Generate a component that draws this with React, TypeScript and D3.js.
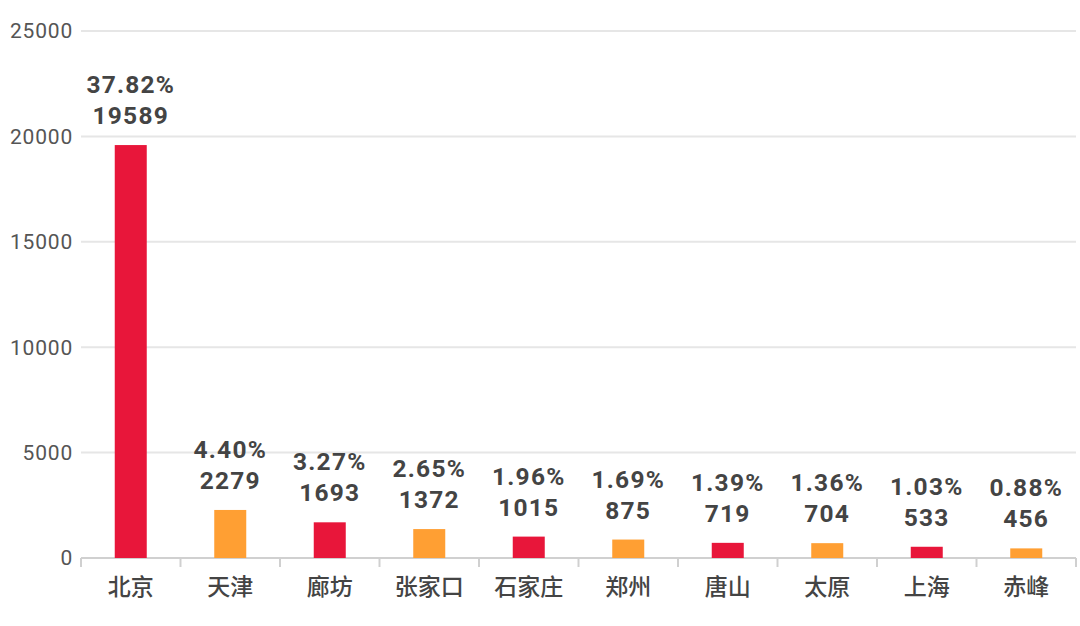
import React, { useEffect, useRef } from 'react';
import * as d3 from 'd3';

const cities = ['北京', '天津', '廊坊', '张家口', '石家庄', '郑州', '唐山', '太原', '上海', '赤峰'];
const counts = [19589, 2279, 1693, 1372, 1015, 875, 719, 704, 533, 456];
const shares = ['37.82%', '4.40%', '3.27%', '2.65%', '1.96%', '1.69%', '1.39%', '1.36%', '1.03%', '0.88%'];
const yTicks = [0, 5000, 10000, 15000, 20000, 25000];

const RED = '#E8163A';
const ORANGE = '#FF9F33';
const FONT = 'Roboto, "Noto Sans CJK SC", sans-serif';
const CJK = '"Noto Sans CJK SC", sans-serif';

export default function App() {
  const ref = useRef<SVGSVGElement | null>(null);

  useEffect(() => {
    const width = 1080;
    const height = 626;
    const margin = { top: 31, right: 4, bottom: 68, left: 81 };
    const innerW = width - margin.left - margin.right;
    const innerH = height - margin.top - margin.bottom;

    const svg = d3.select(ref.current);
    svg.selectAll('*').remove();

    const g = svg.append('g').attr('transform', `translate(${margin.left},${margin.top})`);

    const x = d3.scaleBand().domain(cities).range([0, innerW]).paddingInner(0).paddingOuter(0);
    const y = d3.scaleLinear().domain([0, 25000]).range([innerH, 0]);

    // grid lines
    g.selectAll('.grid')
      .data(yTicks.filter((t) => t > 0))
      .enter()
      .append('line')
      .attr('x1', 0)
      .attr('x2', innerW)
      .attr('y1', (d) => y(d))
      .attr('y2', (d) => y(d))
      .attr('stroke', '#e6e6e6')
      .attr('stroke-width', 2);

    // y tick labels
    g.selectAll('.ylab')
      .data(yTicks)
      .enter()
      .append('text')
      .attr('x', -8)
      .attr('y', (d) => y(d))
      .attr('dy', '0.35em')
      .attr('text-anchor', 'end')
      .attr('font-family', FONT)
      .attr('font-size', 21)
      .attr('letter-spacing', 0.8)
      .attr('fill', '#555')
      .text((d) => d);

    // x axis
    g.append('line')
      .attr('x1', 0)
      .attr('x2', innerW)
      .attr('y1', innerH)
      .attr('y2', innerH)
      .attr('stroke', '#d0d0d0')
      .attr('stroke-width', 2);

    const bounds = cities.map((c) => x(c) as number).concat([innerW]);
    g.selectAll('.xtick')
      .data(bounds)
      .enter()
      .append('line')
      .attr('x1', (d) => d)
      .attr('x2', (d) => d)
      .attr('y1', innerH)
      .attr('y2', innerH + 9)
      .attr('stroke', '#d0d0d0')
      .attr('stroke-width', 2);

    g.selectAll('.xlab')
      .data(cities)
      .enter()
      .append('text')
      .attr('x', (d) => (x(d) as number) + x.bandwidth() / 2)
      .attr('y', innerH + 37)
      .attr('text-anchor', 'middle')
      .attr('font-family', CJK)
      .attr('font-size', 23)
      .attr('font-weight', 500)
      .attr('fill', '#444')
      .text((d) => d);

    // bars
    const barW = 32;
    g.selectAll('.bar')
      .data(counts)
      .enter()
      .append('rect')
      .attr('x', (_, i) => (x(cities[i]) as number) + x.bandwidth() / 2 - barW / 2)
      .attr('y', (d) => y(d))
      .attr('width', barW)
      .attr('height', (d) => innerH - y(d))
      .attr('fill', (_, i) => (i % 2 === 0 ? RED : ORANGE));

    // labels
    const labels = g
      .selectAll('.lab')
      .data(counts)
      .enter()
      .append('g')
      .attr('transform', (d, i) => `translate(${(x(cities[i]) as number) + x.bandwidth() / 2},${y(d)})`);

    labels
      .append('text')
      .attr('y', -52)
      .attr('text-anchor', 'middle')
      .attr('font-family', FONT)
      .attr('font-size', 24.5)
      .attr('font-weight', 'bold')
      .attr('letter-spacing', 1.2)
      .attr('fill', '#444')
      .text((_, i) => shares[i]);

    labels
      .append('text')
      .attr('y', -21)
      .attr('text-anchor', 'middle')
      .attr('font-family', FONT)
      .attr('font-size', 24.5)
      .attr('font-weight', 'bold')
      .attr('letter-spacing', 1.2)
      .attr('fill', '#444')
      .text((d) => d);
  }, []);

  return (
    <svg
      ref={ref}
      width={1080}
      height={626}
      style={{ display: 'block', position: 'absolute', left: 0, top: 0, background: '#fff' }}
    />
  );
}
